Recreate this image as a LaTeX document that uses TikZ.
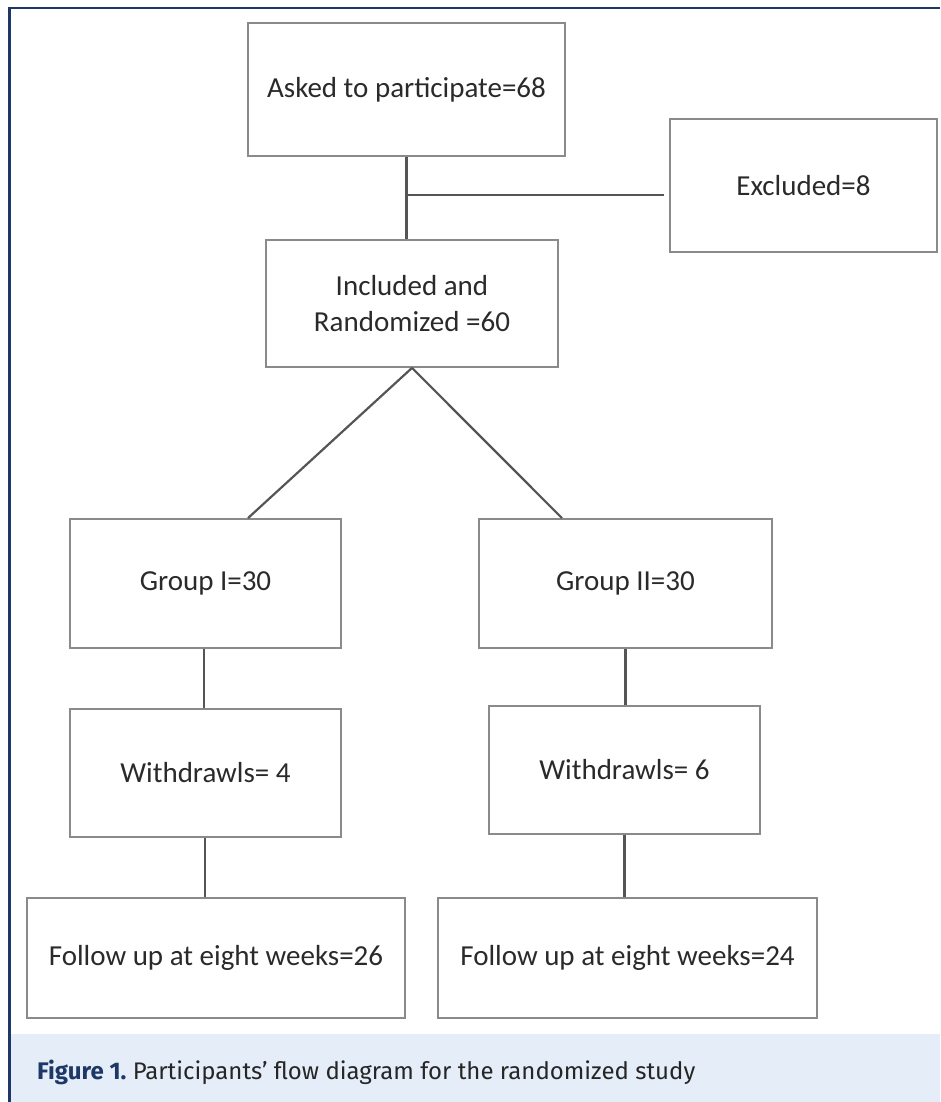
\documentclass[tikz,border=0pt]{standalone}
\usepackage{fontspec}
\setmainfont{Carlito}
\newfontfamily\capfont{Fira Sans}
\definecolor{navy}{HTML}{1D3766}
\definecolor{band}{HTML}{E5EDF8}
\definecolor{boxline}{HTML}{8A8A8A}
\definecolor{conn}{HTML}{555555}
\definecolor{txt}{HTML}{2A2A2A}
\begin{document}
\begin{tikzpicture}[x=1pt,y=-1pt,
  fbox/.style={draw=boxline,line width=1.8pt,rectangle,inner sep=0pt,align=center,
    text=txt,font=\fontsize{29}{36}\selectfont},
  link/.style={draw=conn,line width=2.2pt}]
\useasboundingbox (0,0) rectangle (940,1102);
% caption band and frame
\fill[band] (11,1034) rectangle (940,1102);
\draw[navy,line width=2.6pt] (9.5,1102) -- (9.5,8) -- (940,8);
% boxes
\node[fbox,minimum width=317pt,minimum height=133pt] (ask) at (406.5,89.5) {Asked to participate=68};
\node[fbox,minimum width=267pt,minimum height=133pt] (excl) at (803.5,185.5) {Excluded=8};
\node[fbox,minimum width=292pt,minimum height=127pt] (inc) at (412,303.5) {Included and\\Randomized =60};
\node[fbox,minimum width=271pt,minimum height=129pt] (g1) at (205.5,583.5) {Group I=30};
\node[fbox,minimum width=293pt,minimum height=129pt] (g2) at (625.5,583.5) {Group II=30};
\node[fbox,minimum width=271pt,minimum height=128pt] (w1) at (205.5,773) {Withdrawls= 4};
\node[fbox,minimum width=271pt,minimum height=128pt] (w2) at (624.5,770) {Withdrawls= 6};
\node[fbox,minimum width=378pt,minimum height=120pt] (f1) at (216,958) {Follow up at eight weeks=26};
\node[fbox,minimum width=379pt,minimum height=120pt] (f2) at (627.5,958) {Follow up at eight weeks=24};
% connectors
\coordinate (j) at (406,195);
\draw[link] (ask.south) -- (ask.south |- inc.north);
\draw[link] (j) -- ([xshift=-5pt]j -| excl.west);
\draw[link] (inc.south) -- ([xshift=42.5pt]g1.north);
\draw[link] (inc.south) -- ([xshift=-63.5pt]g2.north);
\draw[link] ([xshift=-1.5pt]g1.south) -- ([xshift=-1.5pt]g1.south |- w1.north);
\draw[link] (g2.south) -- (g2.south |- w2.north);
\draw[link] ([xshift=-0.5pt]w1.south) -- ([xshift=-0.5pt]w1.south |- f1.north);
\draw[link] (w2.south) -- (w2.south |- f2.north);
% caption
\node[anchor=base west,inner sep=0pt,font=\capfont\fontsize{24}{28}\selectfont] (cap) at (37,1079)
  {\textcolor{navy}{\bfseries Figure 1.}\ \textcolor{black!85}{Participants’ flow diagram for the randomized study}};
\end{tikzpicture}
\end{document}
